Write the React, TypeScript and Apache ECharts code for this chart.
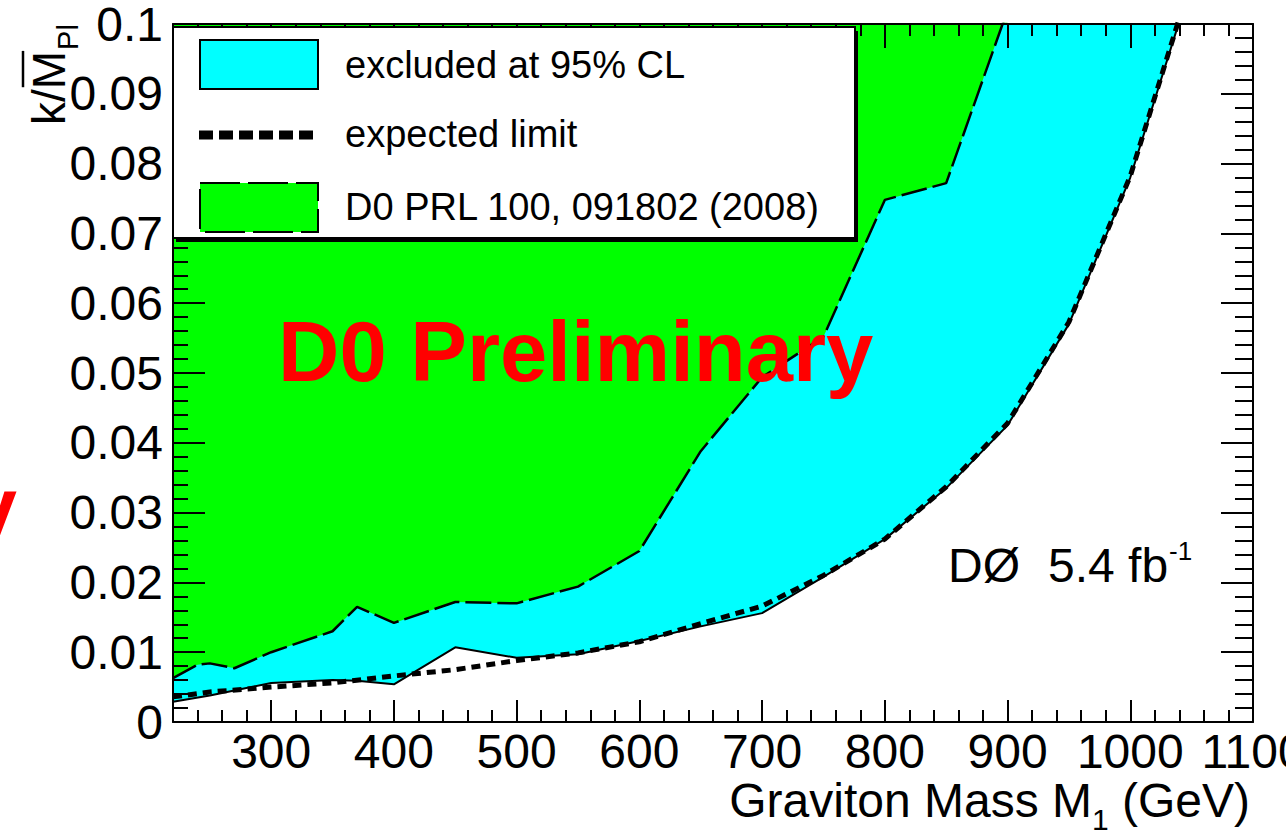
import React, { useEffect, useRef } from "react";
import * as echarts from "echarts";

const FONT = '"Liberation Sans", Arial, Helvetica, sans-serif';

// Observed 95% CL upper limit (solid line, lower edge of the cyan region)
const observedMass = [220, 250, 270, 300, 350, 370, 400, 450, 500, 550, 600, 650, 700, 750, 800, 850, 900, 950, 1000, 1050];
const observedLimit = [0.0029, 0.0038, 0.0045, 0.0056, 0.0060, 0.0059, 0.0054, 0.0107, 0.0092, 0.0097, 0.0116, 0.0137, 0.0156, 0.0208, 0.0262, 0.0335, 0.0425, 0.0570, 0.0780, 0.1060];

// Expected limit (thick dashed line)
const expectedMass = [220, 250, 300, 350, 400, 450, 500, 550, 600, 650, 700, 750, 800, 850, 900, 950, 1000, 1050];
const expectedLimit = [0.0036, 0.0043, 0.0050, 0.0056, 0.0066, 0.0075, 0.0088, 0.0099, 0.0115, 0.0141, 0.0166, 0.0210, 0.0262, 0.0337, 0.0428, 0.0573, 0.0782, 0.1065];

// D0 PRL 100, 091802 (2008) limit (green region boundary)
const prl2008Mass = [220, 240, 250, 270, 300, 350, 370, 400, 450, 500, 550, 600, 650, 700, 750, 800, 850, 900];
const prl2008Limit = [0.0063, 0.0082, 0.0084, 0.0077, 0.0100, 0.0130, 0.0165, 0.0142, 0.0172, 0.0170, 0.0194, 0.0245, 0.0388, 0.0494, 0.0552, 0.0748, 0.0772, 0.1020];

// Axes
const xMin = 220;
const xMax = 1100;
const xMinorStep = 20;
const xTickLabels = [300, 400, 500, 600, 700, 800, 900, 1000, 1100];
const yMin = 0;
const yMax = 0.1;
const yStep = 0.01;
const yTickLabels = ["0", "0.01", "0.02", "0.03", "0.04", "0.05", "0.06", "0.07", "0.08", "0.09", "0.1"];

// Legend entries
const legendLabels = ["excluded at 95% CL", "expected limit", "D0 PRL 100, 091802 (2008)"];

const pairs = (xs: number[], ys: number[]) => xs.map((x, i) => [x, ys[i]]);

let measureCtx: CanvasRenderingContext2D | null = null;
function tw(text: string, size: number, weight = "normal") {
  if (!measureCtx) measureCtx = document.createElement("canvas").getContext("2d");
  if (!measureCtx) return text.length * size * 0.55;
  measureCtx.font = `${weight} ${size}px ${FONT}`;
  return measureCtx.measureText(text).width;
}

function txt(x: number, y: number, text: string, size: number, extra: any = {}) {
  const align = extra.align || "left";
  return {
    type: "text",
    x,
    y,
    z: 100,
    style: {
      text,
      fontSize: size,
      fontFamily: FONT,
      fontWeight: extra.weight || "normal",
      fill: extra.fill || "#000",
      align,
      textAlign: align,
      verticalAlign: "middle",
      textVerticalAlign: "middle",
    },
  };
}

function buildOption(): any {
  const black = "#000";
  const tickStyle = { color: black, width: 2 };

  // x-axis title pieces (right aligned)
  const titleRight = 1250;
  const wTail = tw(" (GeV)", 48);
  const wSub = tw("1", 30);

  // y-axis title measurements
  const wK = tw("k/", 46);
  const wKM = tw("k/M", 46);

  // DØ label
  const wD = tw("5.4 fb", 48);

  const graphic: any[] = [
    // legend
    { type: "rect", z: 99, shape: { x: 176, y: 31, width: 682, height: 211 }, style: { fill: black } },
    { type: "rect", z: 100, shape: { x: 173, y: 27, width: 682, height: 211 }, style: { fill: "#fff", stroke: black, lineWidth: 2 } },
    { type: "rect", z: 101, shape: { x: 200, y: 40, width: 118, height: 49 }, style: { fill: "#00ffff", stroke: black, lineWidth: 2 } },
    { type: "line", z: 101, shape: { x1: 199, y1: 135, x2: 318, y2: 135 }, style: { stroke: black, lineWidth: 9, lineDash: [14, 6] } },
    { type: "rect", z: 101, shape: { x: 200, y: 183, width: 118, height: 49 }, style: { fill: "#00ff00", stroke: black, lineWidth: 2, lineDash: [40, 8] } },
    txt(345, 65, legendLabels[0], 38),
    txt(345, 134, legendLabels[1], 38),
    txt(345, 207, legendLabels[2], 38),

    // Preliminary stamp
    txt(278, 351, "D0 Preliminary", 85, { weight: "bold", fill: "#ff0000" }),
    txt(17, 507, "y", 84, { weight: "bold", fill: "#ff0000", align: "right" }),

    // luminosity
    txt(948, 565, "DØ", 48),
    txt(1048, 565, "5.4 fb", 48),
    txt(1048 + wD + 1, 551, "-1", 26),

    // x-axis title
    txt(titleRight, 800, " (GeV)", 48, { align: "right" }),
    txt(titleRight - wTail, 819, "1", 30, { align: "right" }),
    txt(titleRight - wTail - wSub, 800, "Graviton Mass M", 48, { align: "right" }),

    // y-axis title (rotated)
    {
      type: "group",
      x: 65,
      y: 125,
      rotation: Math.PI / 2,
      z: 100,
      children: [
        txt(0, -16, "k/M", 46),
        { type: "line", z: 100, shape: { x1: wK + 2, y1: -42, x2: wKM, y2: -42 }, style: { stroke: black, lineWidth: 2.5 } },
        txt(wKM + 1, 3, "Pl", 29),
      ],
    },
  ];

  const baseX = { type: "value", min: xMin, max: xMax, splitLine: { show: false }, z: 10 };
  const baseY = { type: "value", min: yMin, max: yMax, interval: yStep, splitLine: { show: false }, z: 10 };

  return {
    animation: false,
    backgroundColor: "#fff",
    grid: { left: 173, right: 33, top: 24, bottom: 113, containLabel: false, outerBoundsMode: "none" },
    xAxis: [
      {
        ...baseX,
        position: "bottom",
        interval: xMinorStep,
        axisLine: { show: true, onZero: false, lineStyle: { color: black, width: 2 } },
        axisTick: { show: true, inside: true, length: 12, lineStyle: tickStyle },
        axisLabel: { show: false },
      },
      {
        ...baseX,
        position: "bottom",
        axisLine: { show: false, onZero: false },
        axisTick: { show: true, inside: true, length: 22, lineStyle: tickStyle, customValues: xTickLabels },
        axisLabel: {
          show: true,
          customValues: xTickLabels,
          margin: 5,
          fontSize: 48,
          fontFamily: FONT,
          color: black,
          formatter: (v: number) => String(v),
        },
      },
      {
        ...baseX,
        position: "top",
        interval: xMinorStep,
        axisLine: { show: true, onZero: false, lineStyle: { color: black, width: 2 } },
        axisTick: { show: true, inside: true, length: 12, lineStyle: tickStyle },
        axisLabel: { show: false },
      },
      {
        ...baseX,
        position: "top",
        axisLine: { show: false, onZero: false },
        axisTick: { show: true, inside: true, length: 24, lineStyle: tickStyle, customValues: xTickLabels },
        axisLabel: { show: false },
      },
    ],
    yAxis: [
      {
        ...baseY,
        position: "left",
        axisLine: { show: true, onZero: false, lineStyle: { color: black, width: 2 } },
        axisTick: { show: true, inside: true, length: 32, lineStyle: tickStyle },
        minorTick: { show: true, splitNumber: 5, length: 15, lineStyle: tickStyle },
        minorSplitLine: { show: false },
        axisLabel: {
          show: true,
          margin: 10,
          fontSize: 48,
          fontFamily: FONT,
          color: black,
          formatter: (v: number) => yTickLabels[Math.round(v / yStep)] ?? String(v),
        },
      },
      {
        ...baseY,
        position: "right",
        axisLine: { show: true, onZero: false, lineStyle: { color: black, width: 2 } },
        axisTick: { show: true, inside: true, length: 32, lineStyle: tickStyle },
        minorTick: { show: true, splitNumber: 5, length: 18, lineStyle: tickStyle },
        minorSplitLine: { show: false },
        axisLabel: { show: false },
      },
    ],
    series: [
      {
        name: legendLabels[0],
        type: "line",
        xAxisIndex: 0,
        yAxisIndex: 0,
        data: pairs(observedMass, observedLimit),
        showSymbol: false,
        symbol: "none",
        clip: true,
        z: 2,
        lineStyle: { color: black, width: 2 },
        areaStyle: { color: "#00ffff", opacity: 1, origin: "end" },
      },
      {
        name: legendLabels[2],
        type: "line",
        xAxisIndex: 0,
        yAxisIndex: 0,
        data: pairs(prl2008Mass, prl2008Limit),
        showSymbol: false,
        symbol: "none",
        clip: true,
        z: 3,
        lineStyle: { color: black, width: 2.5, type: [26, 6] },
        areaStyle: { color: "#00ff00", opacity: 1, origin: "end" },
      },
      {
        name: legendLabels[1],
        type: "line",
        xAxisIndex: 0,
        yAxisIndex: 0,
        data: pairs(expectedMass, expectedLimit),
        showSymbol: false,
        symbol: "none",
        clip: true,
        z: 4,
        lineStyle: { color: black, width: 5, type: [9, 6] },
      },
    ],
    graphic,
  };
}

export default function App() {
  const ref = useRef<HTMLDivElement>(null);
  useEffect(() => {
    document.body.style.margin = "0";
    document.body.style.overflow = "hidden";
    if (!ref.current) return;
    const chart = echarts.init(ref.current, null, { renderer: "svg" });
    chart.setOption(buildOption());
    return () => chart.dispose();
  }, []);
  return <div ref={ref} style={{ width: 1286, height: 835 }} />;
}
